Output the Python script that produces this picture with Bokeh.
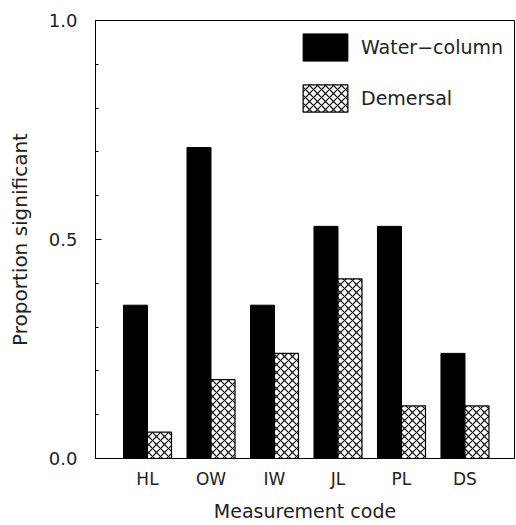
from bokeh.plotting import figure
from bokeh.models import FixedTicker, Legend, LegendItem, Range1d
from bokeh.embed import file_html
from bokeh.resources import INLINE
import numpy as np

# ---- data ----
categories = ["HL", "OW", "IW", "JL", "PL", "DS"]
water_column = [0.35, 0.71, 0.35, 0.53, 0.53, 0.24]
demersal = [0.06, 0.18, 0.24, 0.41, 0.12, 0.12]
y_ticks = [0.0, 0.5, 1.0]
y_minor = [0.1, 0.2, 0.3, 0.4, 0.6, 0.7, 0.8, 0.9]

FONT = "DejaVu Sans"
TXT = "#222222"

x = np.arange(1, len(categories) + 1)
w = 0.378

p = figure(width=516, height=525, output_backend="svg", toolbar_location=None,
           x_range=Range1d(0.181, 6.78), y_range=Range1d(0, 1.0),
           min_border_left=95, min_border_right=2, min_border_top=20, min_border_bottom=67)
p.grid.visible = False
p.outline_line_color = "black"
p.outline_line_width = 1
p.background_fill_color = "white"
p.border_fill_color = "white"

r1 = p.vbar(x=x - w / 2, top=water_column, width=w, bottom=0,
            fill_color="black", line_color="black", line_width=1)
r2 = p.vbar(x=x + w / 2, top=demersal, width=w, bottom=0,
            fill_color="white", line_color="black", line_width=1.2,
            hatch_pattern="x", hatch_color="black", hatch_scale=8, hatch_weight=1.2)

# x axis
p.xaxis.ticker = FixedTicker(ticks=list(x))
p.xaxis.major_label_overrides = {int(i): c for i, c in zip(x, categories)}
p.xaxis.axis_label = "Measurement code"
p.xaxis.major_tick_out = 0
p.xaxis.major_tick_in = 0
p.xaxis.minor_tick_out = 0
p.xaxis.minor_tick_in = 0
p.xaxis.major_label_standoff = 10
p.xaxis.axis_label_standoff = 8

# y axis
p.yaxis.ticker = FixedTicker(ticks=y_ticks, minor_ticks=y_minor)
p.yaxis.major_label_overrides = {0: "0.0", 0.5: "0.5", 1: "1.0"}
p.yaxis.major_tick_in = 6
p.yaxis.major_tick_out = 0
p.yaxis.minor_tick_in = 3
p.yaxis.minor_tick_out = 0
p.yaxis.axis_label = "Proportion significant"
p.yaxis.major_label_standoff = 18
p.yaxis.axis_label_standoff = 14

for ax in (p.xaxis[0], p.yaxis[0]):
    ax.axis_line_color = "black"
    ax.major_label_text_font = FONT
    ax.major_label_text_color = TXT
    ax.axis_label_text_font = FONT
    ax.axis_label_text_font_style = "normal"
    ax.axis_label_text_color = TXT
    ax.major_tick_line_color = "black" if ax is p.yaxis[0] else None
    ax.minor_tick_line_color = "black" if ax is p.yaxis[0] else None

p.xaxis.major_label_text_font_size = "17px"
p.yaxis.major_label_text_font_size = "18px"
p.xaxis.axis_label_text_font_size = "19px"
p.yaxis.axis_label_text_font_size = "20px"

legend = Legend(items=[LegendItem(label="Water\u2212column", renderers=[r1]),
                       LegendItem(label="Demersal", renderers=[r2])],
                location=(202, 343), orientation="vertical")
legend.glyph_width = 56
legend.glyph_height = 34
legend.label_height = 34
legend.spacing = 17
legend.padding = 0
legend.margin = 0
legend.label_standoff = 8
legend.border_line_color = None
legend.background_fill_alpha = 0
legend.label_text_font = FONT
legend.label_text_font_size = "19px"
legend.label_text_color = TXT
p.add_layout(legend)

open("out.html", "w").write(file_html(p, INLINE))
